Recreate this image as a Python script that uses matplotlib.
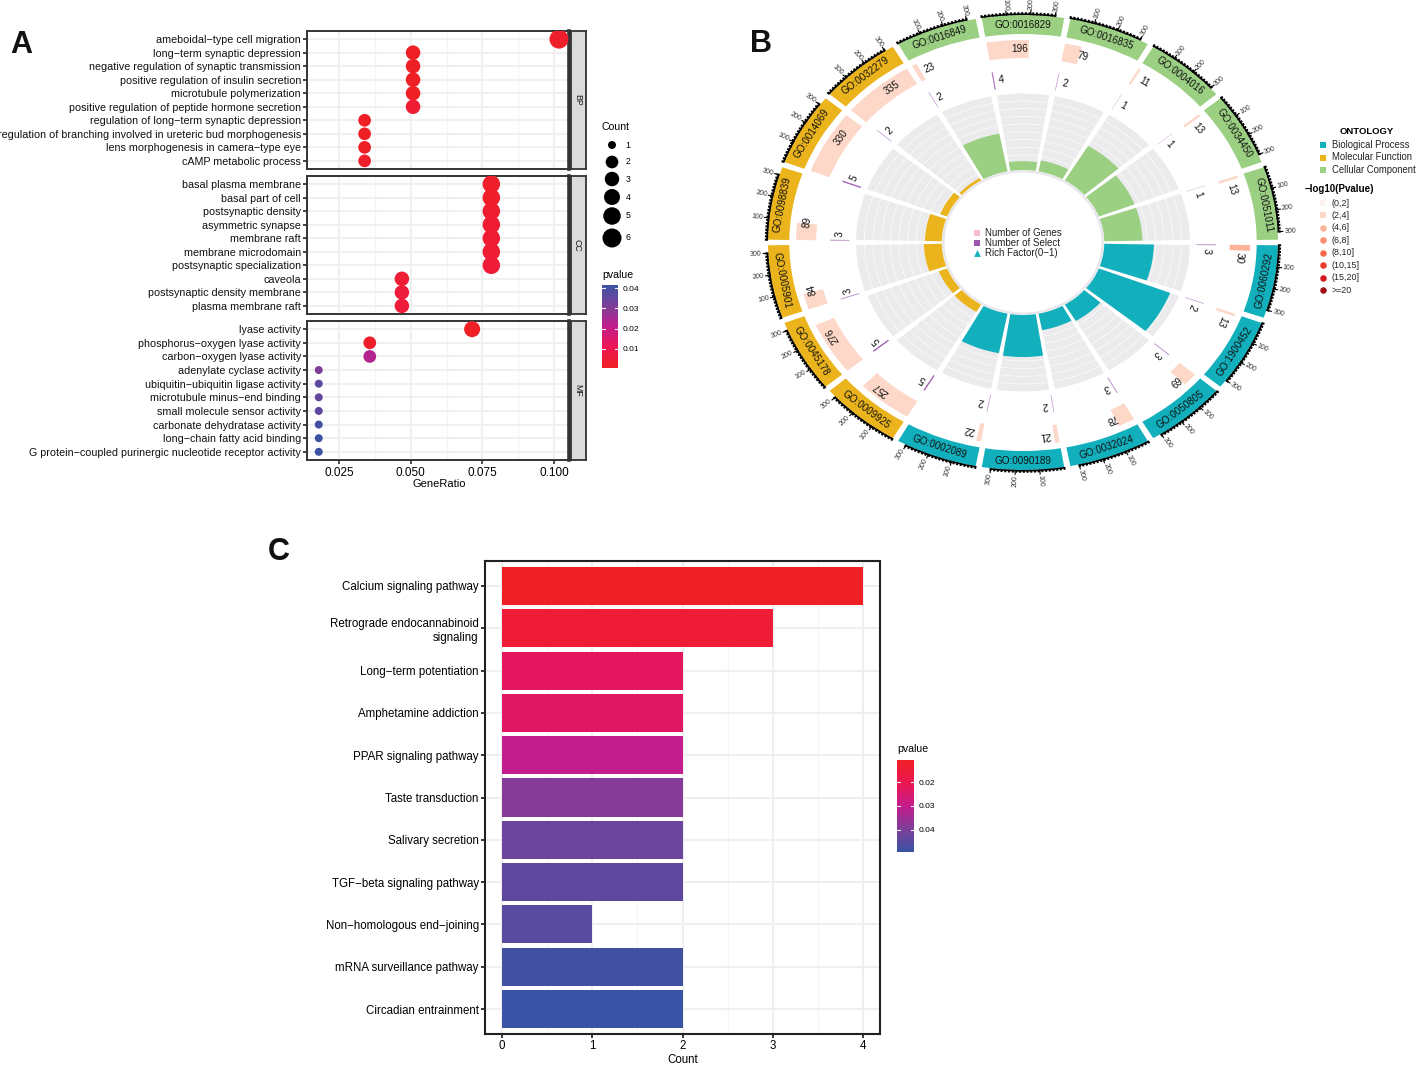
import numpy as np
import matplotlib as mpl
mpl.use('Agg')
import matplotlib.pyplot as plt
from matplotlib.colors import LinearSegmentedColormap, Normalize
from matplotlib.cm import ScalarMappable

plt.rcParams['font.family'] = ['Liberation Sans', 'DejaVu Sans']

W, H = 1417, 1065

# panel A
bp_terms = ['ameboidal−type cell migration', 'long−term synaptic depression',
            'negative regulation of synaptic transmission', 'positive regulation of insulin secretion',
            'microtubule polymerization', 'positive regulation of peptide hormone secretion',
            'regulation of long−term synaptic depression',
            'regulation of branching involved in ureteric bud morphogenesis',
            'lens morphogenesis in camera−type eye', 'cAMP metabolic process']
bp_ratio = [0.1017, 0.0508, 0.0508, 0.0508, 0.0508, 0.0508, 0.0339, 0.0339, 0.0339, 0.0339]
bp_count = [6, 3, 3, 3, 3, 3, 2, 2, 2, 2]
bp_p = [0.002, 0.001, 0.001, 0.001, 0.001, 0.004, 0.001, 0.001, 0.001, 0.002]

cc_terms = ['basal plasma membrane', 'basal part of cell', 'postsynaptic density', 'asymmetric synapse',
            'membrane raft', 'membrane microdomain', 'postsynaptic specialization', 'caveola',
            'postsynaptic density membrane', 'plasma membrane raft']
cc_ratio = [0.0781, 0.0781, 0.0781, 0.0781, 0.0781, 0.0781, 0.0781, 0.0469, 0.0469, 0.0469]
cc_count = [5, 5, 5, 5, 5, 5, 5, 3, 3, 3]
cc_p = [0.002, 0.002, 0.003, 0.004, 0.004, 0.004, 0.005, 0.004, 0.005, 0.005]

mf_terms = ['lyase activity', 'phosphorus−oxygen lyase activity', 'carbon−oxygen lyase activity',
            'adenylate cyclase activity', 'ubiquitin−ubiquitin ligase activity',
            'microtubule minus−end binding', 'small molecule sensor activity',
            'carbonate dehydratase activity', 'long−chain fatty acid binding',
            'G protein−coupled purinergic nucleotide receptor activity']
mf_ratio = [0.0714, 0.0357, 0.0357, 0.0179, 0.0179, 0.0179, 0.0179, 0.0179, 0.0179, 0.0179]
mf_count = [4, 2, 2, 1, 1, 1, 1, 1, 1, 1]
mf_p = [0.001, 0.002, 0.023, 0.031, 0.036, 0.035, 0.036, 0.040, 0.041, 0.041]

count_levels = [1, 2, 3, 4, 5, 6]
count_diam = [8, 12.7, 14.5, 16, 17.5, 19]
ratio_ticks = [0.025, 0.050, 0.075, 0.100]
ratio_minor = [0.0375, 0.0625, 0.0875]

# panel B, clockwise from three o'clock
go_ids = ['GO:0060292', 'GO:1900452', 'GO:0050805', 'GO:0032024', 'GO:0090189', 'GO:0002089',
          'GO:0009925', 'GO:0045178', 'GO:0005901', 'GO:0098839', 'GO:0014069', 'GO:0032279',
          'GO:0016849', 'GO:0016829', 'GO:0016835', 'GO:0004016', 'GO:0034450', 'GO:0051011']
go_ont = ['BP'] * 6 + ['MF'] * 6 + ['CC'] * 6
go_genes = [30, 13, 69, 78, 21, 22, 257, 276, 84, 89, 330, 335, 23, 196, 79, 11, 13, 13]
go_select = [3, 2, 3, 3, 2, 2, 5, 5, 3, 3, 5, 2, 2, 4, 2, 1, 1, 1]
go_rich = [0.100, 0.154, 0.043, 0.038, 0.095, 0.091, 0.019, 0.018, 0.036, 0.034, 0.015, 0.006,
           0.087, 0.020, 0.025, 0.091, 0.077, 0.077]
go_class = [2, 1, 1, 1, 1, 1, 1, 1, 1, 1, 1, 1, 1, 1, 1, 1, 1, 1]
ont_names = ['Biological Process', 'Molecular Function', 'Cellular Component']
ont_colors = {'BP': '#12b0bd', 'MF': '#ebb41c', 'CC': '#9bd083'}
p_bins = ['(0,2]', '(2,4]', '(4,6]', '(6,8]', '(8,10]', '(10,15]', '(15,20]', '>=20']
p_colors = ['#fdf3ee', '#fdd8c8', '#fcb498', '#fb9070', '#f96a4a', '#ee3a2c', '#d3191f', '#a01016']
scale_ticks = [100, 200, 300]

# panel C
path_names = ['Calcium signaling pathway', 'Retrograde endocannabinoid\nsignaling', 'Long−term potentiation',
              'Amphetamine addiction', 'PPAR signaling pathway', 'Taste transduction', 'Salivary secretion',
              'TGF−beta signaling pathway', 'Non−homologous end−joining', 'mRNA surveillance pathway',
              'Circadian entrainment']
path_count = [4, 3, 2, 2, 2, 2, 2, 2, 1, 2, 2]
path_p = [0.011, 0.0146, 0.0225, 0.0235, 0.030, 0.0385, 0.0423, 0.044, 0.045, 0.048, 0.049]

pcmap = LinearSegmentedColormap.from_list('pv', [(0, '#ee2024'), (0.25, '#ed1652'), (0.5, '#c31c8c'),
                                                 (0.75, '#7d3f98'), (1, '#3a53a4')])


def px_axes(fig, x0, y0, x1, y1, **kw):
    return fig.add_axes([x0 / W, 1 - y1 / H, (x1 - x0) / W, (y1 - y0) / H], **kw)


def px_text(x, y, s, **kw):
    kw.setdefault('va', 'center')
    fig.text(x / W, 1 - y / H, s, **kw)


def bar_ticks(ax, values):
    tr = ax.get_yaxis_transform()
    for v in values:
        ax.plot([0, 0.2], [v, v], color='#f4f4f4', lw=0.8, transform=tr)
        ax.plot([0.8, 1], [v, v], color='#f4f4f4', lw=0.8, transform=tr)


fig = plt.figure(figsize=(W / 100, H / 100), dpi=100)

# ---- A ----
norm_a = Normalize(0.0005, 0.0416)
rows = [(31, 169, bp_terms, bp_ratio, bp_count, bp_p, 'BP'),
        (176, 314, cc_terms, cc_ratio, cc_count, cc_p, 'CC'),
        (321, 460, mf_terms, mf_ratio, mf_count, mf_p, 'MF')]
for top, bottom, terms, ratio, counts, pv, name in rows:
    ax = px_axes(fig, 307, top, 569, bottom)
    sizes = [(count_diam[count_levels.index(c)] * 0.72) ** 2 for c in counts]
    y = np.arange(len(terms))
    ax.set_axisbelow(True)
    ax.scatter(ratio, y, s=sizes, c=pv, cmap=pcmap, norm=norm_a, linewidths=0, zorder=3)
    ax.set_xlim(0.0138, 0.1052)
    ax.set_ylim(len(terms) - 0.4, -0.6)
    ax.set_yticks(y)
    ax.set_yticklabels(terms, fontsize=7.75)
    ax.set_xticks(ratio_ticks)
    ax.set_xticks(ratio_minor, minor=True)
    ax.grid(True, which='major', color='#f0f0f0', lw=1.5)
    ax.grid(True, which='minor', axis='x', color='#f4f4f4', lw=0.9)
    ax.tick_params(axis='y', length=3.2, width=1.2, color='#222222', pad=1.2, labelcolor='#111111')
    ax.tick_params(which='minor', length=0)
    for s in ax.spines.values():
        s.set_color('#333333')
        s.set_linewidth(1.4)
    ax.spines['right'].set_linewidth(2.6)
    if name == 'MF':
        ax.tick_params(axis='x', length=3.2, width=1.1, color='#222222', pad=1.5, labelsize=8.5)
        ax.set_xticklabels(['0.025', '0.050', '0.075', '0.100'])
    else:
        ax.tick_params(axis='x', length=0, labelbottom=False)
    strip = px_axes(fig, 571, top, 586, bottom)
    strip.set_facecolor('#dbdbdb')
    strip.set_xticks([])
    strip.set_yticks([])
    for s in strip.spines.values():
        s.set_color('#333333')
        s.set_linewidth(1.3)
    strip.text(0.42, 0.5, name, rotation=-90, ha='center', va='center', fontsize=6.3,
               transform=strip.transAxes, color='#1a1a1a')

px_text(439, 484, 'GeneRatio', ha='center', fontsize=8)

over = fig.add_axes([0, 0, 1, 1], zorder=-1)
over.set_xlim(0, W)
over.set_ylim(H, 0)
over.axis('off')

px_text(602, 127, 'Count', fontsize=7.6)
count_y = [145, 162, 179, 197, 216, 238]
over.scatter([612] * 6, count_y, s=[(d * 0.72) ** 2 for d in count_diam], c='black', linewidths=0)
for cy, c in zip(count_y, count_levels):
    px_text(628, cy, str(c), fontsize=6.3, ha='center')

px_text(602, 275, 'pvalue', fontsize=7.6)
cax = px_axes(fig, 602, 285, 618, 368)
cb = fig.colorbar(ScalarMappable(norm=norm_a, cmap=pcmap), cax=cax)
cb.outline.set_visible(False)
cb.set_ticks([0.01, 0.02, 0.03, 0.04])
cb.set_ticklabels(['0.01', '0.02', '0.03', '0.04'], fontsize=6.1)
cb.ax.tick_params(length=0, pad=3.5)
bar_ticks(cb.ax, [0.01, 0.02, 0.03, 0.04])

# ---- B ----
CX, CY, RX, RY = 1023, 242.5, 255, 227.5
R_MAX = 250
SX = RX / RY
pol = px_axes(fig, CX - R_MAX * SX, CY - R_MAX, CX + R_MAX * SX, CY + R_MAX, projection='polar')
pol.set_aspect('auto')
pol.set_theta_zero_location('N')
pol.set_theta_direction(-1)
pol.set_ylim(0, R_MAX)
pol.set_axis_off()
pol.patch.set_alpha(0)

SPAN = 18.6
TRACK = 18.0
GENE_SCALE = 18.5 / 335
RICH_MAX = 0.174
BAND = (208.5, 227.5)
GENE = (184.5, 202.5)
SEL = (155, 172)
RICH = (72.5, 149.5)
sel_col = {1: '#e8d4ec', 2: '#d0aedb', 3: '#c199d0', 4: '#ae74c0', 5: '#9a55ae'}


def tangent_rot(deg):
    t = np.radians(deg)
    return np.degrees(np.arctan2(-np.sin(t), SX * np.cos(t)))


def up(rot):
    rot = (rot + 180) % 360 - 180
    if rot > 90:
        rot -= 180
    elif rot < -90:
        rot += 180
    return rot


pol.bar(0, 2.2, width=2 * np.pi, bottom=70, color='#e8e8ec', linewidth=0, align='edge')

for i, gid in enumerate(go_ids):
    start = 90 + 20 * i + (20 - SPAN) / 2
    color = ont_colors[go_ont[i]]
    th = np.radians(start)
    span = np.radians(SPAN)
    # outer band
    pol.bar(th, BAND[1] - BAND[0], width=span, bottom=BAND[0], color=color, linewidth=0, align='edge')
    mid = start + SPAN / 2
    pol.text(np.radians(mid), sum(BAND) / 2, gid, rotation=up(tangent_rot(mid)), rotation_mode='anchor',
             ha='center', va='center', fontsize=7.1, color='#111111')
    # scale on the band
    pol.bar(th, 1.6, width=np.radians(300 * GENE_SCALE), bottom=BAND[1], color='black', linewidth=0, align='edge')
    minor = np.arange(0, 301, 15)
    pol.vlines(np.radians(start + minor * GENE_SCALE), BAND[1], BAND[1] + 2.8, color='black', lw=1.5)
    for v in scale_ticks:
        tk = start + v * GENE_SCALE
        pol.vlines(np.radians(tk), BAND[1], BAND[1] + 5, color='black', lw=0.8)
        rad = np.degrees(np.arctan2(np.cos(np.radians(tk)), SX * np.sin(np.radians(tk))))
        pol.text(np.radians(tk), BAND[1] + 11, str(v), rotation=up(rad), rotation_mode='anchor',
                 ha='center', va='center', fontsize=5, color='#333333')
    # genes
    w = go_genes[i] * GENE_SCALE
    pol.bar(th, GENE[1] - GENE[0], width=np.radians(w), bottom=GENE[0], color=p_colors[go_class[i]],
            linewidth=0, align='edge')
    lab = start + w / 2 + 3
    pol.text(np.radians(lab), sum(GENE) / 2, str(go_genes[i]), rotation=tangent_rot(lab), rotation_mode='anchor',
             ha='center', va='center', fontsize=7.2, color='#111111')
    # selected
    w = go_select[i] * GENE_SCALE
    col = sel_col[go_select[i]]
    pol.bar(th, SEL[1] - SEL[0], width=np.radians(w), bottom=SEL[0], color=col, edgecolor=col, linewidth=0.3,
            align='edge')
    lab = start + 2.4
    pol.text(np.radians(lab), sum(SEL) / 2, str(go_select[i]), rotation=tangent_rot(lab), rotation_mode='anchor',
             ha='center', va='center', fontsize=7.2, color='#111111')
    # rich factor track
    inner = np.radians(TRACK)
    th2 = np.radians(90 + 20 * i + (20 - TRACK) / 2)
    layer = (RICH[1] - RICH[0]) / 10
    for k in range(10):
        pol.bar(th2, layer - 0.55, width=inner, bottom=RICH[0] + k * layer, color='#ebebed', linewidth=0, align='edge')
    pol.bar(th2, go_rich[i] / RICH_MAX * (RICH[1] - RICH[0]), width=inner, bottom=RICH[0], color=color, linewidth=0,
            align='edge', zorder=3)

px_text(1367, 131, 'ONTOLOGY', ha='center', fontweight='bold', fontsize=6.8)
for yy, name, key in zip([145, 157.5, 170], ont_names, ['BP', 'MF', 'CC']):
    over.scatter([1323], [yy], marker='s', s=22, c=ont_colors[key], linewidths=0)
    px_text(1332, yy, name, fontsize=6.85, color='#222222')
px_text(1305, 189, '−log10(Pvalue)', fontweight='bold', fontsize=7)
for k, (name, col) in enumerate(zip(p_bins, p_colors)):
    yy = 203 + k * 12.43
    over.scatter([1323], [yy], marker='o' if k > 1 else 's', s=22, c=col, linewidths=0)
    px_text(1332, yy, name, fontsize=6.4, color='#222222')

center_keys = [('Number of Genes', 's', '#f7bcd0'), ('Number of Select', 's', '#9a56aa'),
               ('Rich Factor(0−1)', '^', '#12b0bd')]
for yy, (name, mk, col) in zip([233, 243, 253], center_keys):
    over.scatter([977], [yy], marker=mk, s=24, c=col, linewidths=0)
    px_text(985.5, yy, name, fontsize=7, color='#222222')

# ---- C ----
axc = px_axes(fig, 485, 561, 880, 1034)
norm_c = Normalize(0.0108, 0.0492)
yc = np.arange(len(path_names))
axc.set_axisbelow(True)
axc.barh(yc, path_count, height=0.9, color=pcmap(norm_c(path_p)))
axc.set_xlim(-0.19, 4.19)
axc.set_ylim(len(path_names) - 0.41, -0.59)
axc.set_yticks(yc)
axc.set_yticklabels(path_names, fontsize=8.3)
axc.set_xticks([0, 1, 2, 3, 4])
axc.set_xticks([0.5, 1.5, 2.5, 3.5], minor=True)
axc.grid(True, which='major', color='#efefef', lw=1.5)
axc.grid(True, which='minor', axis='x', color='#f5f5f5', lw=0.8)
axc.tick_params(length=3, width=1.1, pad=1.5, labelsize=8.3)
axc.tick_params(which='minor', length=0)
for s in axc.spines.values():
    s.set_linewidth(1.5)
    s.set_color('#222222')
px_text(682.5, 1060, 'Count', ha='center', fontsize=8.3)
px_text(897, 749, 'pvalue', fontsize=7.6)
cax2 = px_axes(fig, 897, 760, 914, 852)
cb2 = fig.colorbar(ScalarMappable(norm=norm_c, cmap=pcmap), cax=cax2)
cb2.outline.set_visible(False)
cb2.ax.invert_yaxis()
cb2.set_ticks([0.02, 0.03, 0.04])
cb2.set_ticklabels(['0.02', '0.03', '0.04'], fontsize=6.1)
cb2.ax.tick_params(length=0, pad=3.5)
bar_ticks(cb2.ax, [0.02, 0.03, 0.04])

for x, y, s in [(21, 45, 'A'), (761, 44, 'B'), (279, 552, 'C')]:
    px_text(x, y, s, ha='center', fontweight='bold', fontsize=22, color='#111111')

fig.savefig('out.png', dpi=100)
